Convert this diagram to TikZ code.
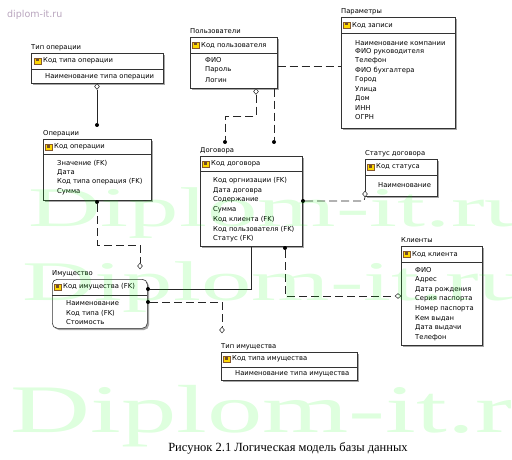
\documentclass[tikz,border=0pt]{standalone}
\usepackage{fontspec}
\setmainfont{DejaVu Sans}
\newfontfamily\capfont{Liberation Serif}
\usetikzlibrary{calc,shapes.geometric}
\definecolor{wmgray}{RGB}{185,165,190}
\tikzset{
  x=1pt, y=-1pt,
  entbox/.style={draw=black!80, line width=0.6pt, fill=white, anchor=north west, inner sep=0pt},
  lbl/.style={anchor=west, inner sep=0pt, font=\fontsize{6.8}{8}\selectfont},
  ttl/.style={anchor=west, inner sep=0pt, font=\fontsize{6.8}{8}\selectfont},
  rel/.style={line width=0.7pt, draw=black!85},
  reldash/.style={rel, dash pattern=on 8pt off 4pt},
  enddot/.style={circle, fill=black, inner sep=0pt, minimum size=4pt},
  enddia/.style={diamond, draw=black!85, fill=white, inner sep=0pt, minimum width=5pt, minimum height=6pt, line width=0.5pt},
  wm/.style={anchor=base west, inner sep=0pt, text=green, text opacity=0.13},
}
\newcommand\keyicon[2]{%
  \fill[yellow!75!orange] (#1-3.5,#2-3) rectangle (#1+3,#2+3);
  \draw[brown!70!black, line width=0.5pt] (#1-3.5,#2-3) rectangle (#1+3,#2+3);
  \fill[brown!60!black] (#1-2.5,#2-2) rectangle (#1+0.5,#2+0.5);
}
% #1 name, #2 x1, #3 y1, #4 x2, #5 y2, #6 divider y, #7 title
\newcommand\entity[7]{%
  \fill[black!35] (#2+2,#3+2) rectangle (#4+2,#5+2);
  \node[entbox, minimum width=#4-#2, minimum height=#5-#3] (#1) at (#2,#3) {};
  \draw[black!80, line width=0.5pt] (#2,#6) -- (#4,#6);
  \node[ttl] (#1-title) at (#2,#3-5.5) {#7};
}
\begin{document}
\begin{tikzpicture}
\useasboundingbox (0,0) rectangle (512,460);
\fill[white] (0,0) rectangle (512,460);

\node[anchor=west, inner sep=0pt, text=wmgray, font=\fontsize{9.5}{11}\selectfont] (site) at (7,15) {diplom-it.ru};

% ---------- entities ----------
\entity{toper}{31}{53}{163}{83}{69}{Тип операции}
\keyicon{38}{61}
\node[lbl] (toper-k) at (43,61) {Код типа операции};
\node[lbl] (toper-a1) at (45,76.5) {Наименование типа операции};

\entity{pol}{190}{37}{277}{88}{53}{Пользователи}
\keyicon{196}{45}
\node[lbl] (pol-k) at (201,45) {Код пользователя};
\node[lbl] (pol-a1) at (205,60) {ФИО};
\node[lbl] (pol-a2) at (205,70) {Пароль};
\node[lbl] (pol-a3) at (205,80) {Логин};

\entity{par}{341}{17}{455}{128}{33}{Параметры}
\keyicon{347}{25}
\node[lbl] (par-k) at (352,25) {Код записи};
\node[lbl] (par-a1) at (355,43) {Наименование компании};
\node[lbl] (par-a2) at (355,52) {ФИО руководителя};
\node[lbl] (par-a3) at (355,61) {Телефон};
\node[lbl] (par-a4) at (355,70.5) {ФИО бухгалтера};
\node[lbl] (par-a5) at (355,80) {Город};
\node[lbl] (par-a6) at (355,89.5) {Улица};
\node[lbl] (par-a7) at (355,99) {Дом};
\node[lbl] (par-a8) at (355,108) {ИНН};
\node[lbl] (par-a9) at (355,117.5) {ОГРН};

\entity{oper}{43}{139}{151}{200}{154}{Операции}
\keyicon{49}{147}
\node[lbl] (oper-k) at (54,147) {Код операции};
\node[lbl] (oper-a1) at (57,163) {Значение (FK)};
\node[lbl] (oper-a2) at (57,172.5) {Дата};
\node[lbl] (oper-a3) at (57,182) {Код типа операция (FK)};
\node[lbl] (oper-a4) at (57,191.5) {Сумма};

\entity{dog}{200}{156}{302}{246}{171}{Договора}
\keyicon{206}{164}
\node[lbl] (dog-k) at (211,164) {Код договора};
\node[lbl] (dog-a1) at (213,181) {Код оргнизации (FK)};
\node[lbl] (dog-a2) at (213,190.5) {Дата договра};
\node[lbl] (dog-a3) at (213,200) {Содержание};
\node[lbl] (dog-a4) at (213,209.5) {Сумма};
\node[lbl] (dog-a5) at (213,219) {Код клиента (FK)};
\node[lbl] (dog-a6) at (213,229) {Код пользователя (FK)};
\node[lbl] (dog-a7) at (213,238.5) {Статус (FK)};

\entity{stat}{365}{159}{437}{196}{175}{Статус договора}
\keyicon{371}{167}
\node[lbl] (stat-k) at (376,167) {Код статуса};
\node[lbl] (stat-a1) at (378,185) {Наименование};

\entity{kl}{401}{246}{482}{345}{262}{Клиенты}
\keyicon{407}{254}
\node[lbl] (kl-k) at (412,254) {Код клиента};
\node[lbl] (kl-a1) at (415,270) {ФИО};
\node[lbl] (kl-a2) at (415,280) {Адрес};
\node[lbl] (kl-a3) at (415,289.5) {Дата рождения};
\node[lbl] (kl-a4) at (415,299) {Серия паспорта};
\node[lbl] (kl-a5) at (415,309) {Номер паспорта};
\node[lbl] (kl-a6) at (415,318.5) {Кем выдан};
\node[lbl] (kl-a7) at (415,328) {Дата выдачи};
\node[lbl] (kl-a8) at (415,338) {Телефон};

% Имущество (rounded)
\fill[black!35, rounded corners=5pt] (54,281) rectangle (149,330);
\node[entbox, rounded corners=5pt, minimum width=95pt, minimum height=49pt] (im) at (52,279) {};
\draw[black!80, line width=0.5pt] (52,295) -- (147,295);
\node[ttl] (im-title) at (52,273.5) {Имущество};
\keyicon{58}{287}
\node[lbl] (im-k) at (63,287) {Код имущества (FK)};
\node[lbl] (im-a1) at (66,303) {Наименование};
\node[lbl] (im-a2) at (66,313) {Код типа (FK)};
\node[lbl] (im-a3) at (66,322) {Стоимость};

\entity{tim}{221}{352}{357}{380}{367}{Тип имущества}
\keyicon{227}{359}
\node[lbl] (tim-k) at (232,359) {Код типа имущества};
\node[lbl] (tim-a1) at (235,374) {Наименование типа имущества};

% ---------- relationships ----------
% Тип операции -> Операции
\node[enddot] (d1) at (97,125) {};
\node[enddia] (m1) at (97,86.5) {};
\draw[rel] (97,0 |- toper.south) -- (m1.north);
\draw[rel] (m1.south) -- (d1);

% Пользователи -> Договора
\node[enddia] (m2) at (256,91.5) {};
\node[enddot] (d2) at (225,142) {};
\draw[reldash] (m2.south) -- (256,116) -- (225,116) -- (d2);
\node[enddot] (d3) at (274,142) {};
\draw[reldash] (274,0 |- pol.south) -- (d3);

% Пользователи -- Параметры
\draw[reldash] (pol.east |- 0,66) -- (par.west |- 0,66);

% Операции -> Имущество
\node[enddot] (d4) at (97,202) {};
\node[enddia] (m4) at (140,266) {};
\draw[reldash] (d4) -- (97,245) -- (140,245) -- (m4.north);

% Договора -> Имущество
\node[enddot] (d5) at (148,289) {};
\draw[rel] (251,0 |- dog.south) -- (251,289) -- (d5);

% Имущество -> Тип имущества
\node[enddot] (d6) at (148,302) {};
\node[enddia] (m6) at (222,330) {};
\draw[reldash] (d6) -- (222,302) -- (m6.north);

% Договора -> Статус договора
\node[enddot] (d7) at (303,201) {};
\node[enddia] (m7) at (365,194) {};
\draw[reldash] (d7) -- (364,201) -- (m7.south);

% Договора -> Клиенты
\node[enddot] (d8) at (285,248) {};
\node[enddia, minimum width=6pt, minimum height=5pt] (m8) at (398,296) {};
\draw[reldash] (d8) -- (285,296) -- (m8.west);

% ---------- caption ----------
\node[anchor=center, inner sep=0pt, font=\capfont\fontsize{12.5}{14}\selectfont] (cap) at (288,448) {Рисунок 2.1 Логическая модель базы данных};

% ---------- watermark ----------
\begin{scope}
\clip (0,0) rectangle (512,460);
\node[wm, font=\capfont\fontsize{56}{60}\selectfont] (wm1) at (28,226) {\scalebox{1.8}[1]{Diplom-it.ru}};
\node[wm, font=\capfont\fontsize{56}{60}\selectfont] (wm2) at (22,300) {\scalebox{1.8}[1]{Diplom-it.ru}};
\node[wm, font=\capfont\fontsize{68}{72}\selectfont] (wm3) at (10,432) {\scalebox{1.63}[1]{Diplom-it.ru}};
\end{scope}
\end{tikzpicture}
\end{document}
